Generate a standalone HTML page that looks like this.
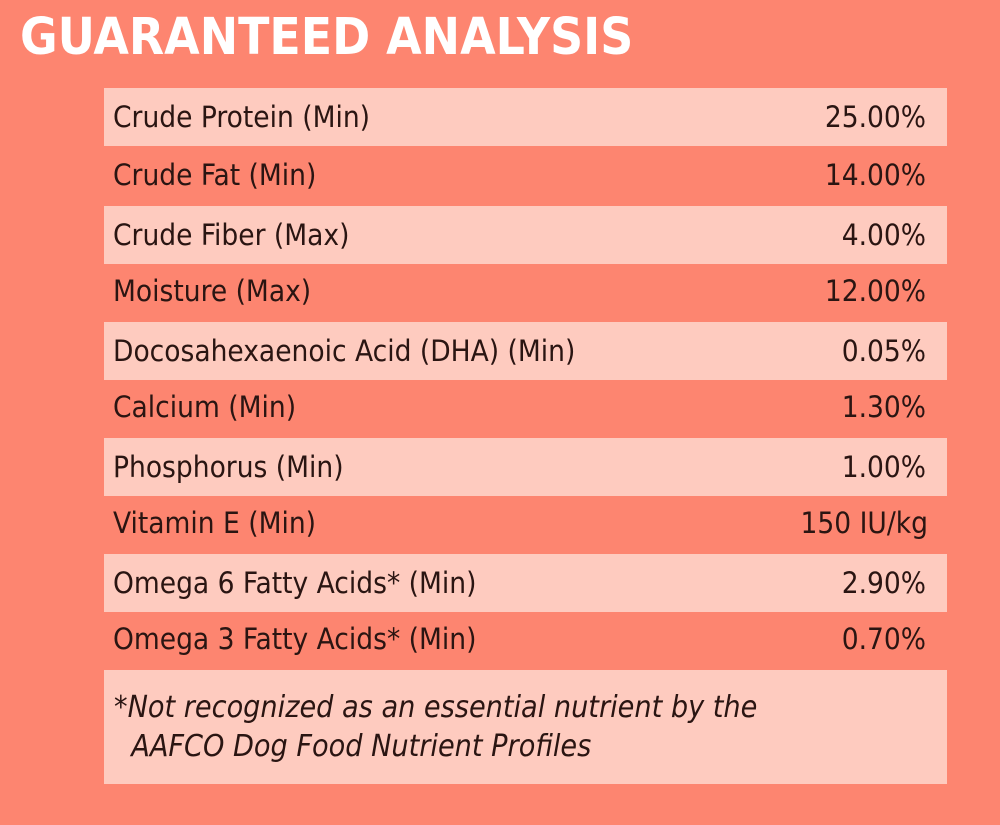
<!DOCTYPE html>
<html><head><style>
body{margin:0;width:1000px;height:825px;background:#FD8570;font-family:"DejaVu Sans Condensed","Liberation Sans",sans-serif;overflow:hidden;position:relative}
h1{position:absolute;left:20px;top:8px;margin:0;font-size:51px;font-weight:bold;color:#fff;font-family:"DejaVu Sans Condensed","Liberation Sans",sans-serif}
.r{position:absolute;left:104px;width:843px;height:58px;color:#2a1512;font-size:29.5px;line-height:58px}
.l{background:#FECBBF}
.r span{position:absolute;left:9px}
.r b{position:absolute;right:21px;font-weight:normal}
.f{position:absolute;left:104px;top:670px;width:843px;height:114px;background:#FECBBF;color:#2a1512;font-size:30.2px;font-style:italic;line-height:39px}
</style></head><body>
<h1>GUARANTEED ANALYSIS</h1>
<div class="r l" style="top:88px"><span>Crude Protein (Min)</span><b>25.00%</b></div>
<div class="r" style="top:146px"><span>Crude Fat (Min)</span><b>14.00%</b></div>
<div class="r l" style="top:206px"><span>Crude Fiber (Max)</span><b>4.00%</b></div>
<div class="r" style="top:262px"><span>Moisture (Max)</span><b>12.00%</b></div>
<div class="r l" style="top:322px"><span>Docosahexaenoic Acid (DHA) (Min)</span><b>0.05%</b></div>
<div class="r" style="top:378px"><span>Calcium (Min)</span><b>1.30%</b></div>
<div class="r l" style="top:438px"><span>Phosphorus (Min)</span><b>1.00%</b></div>
<div class="r" style="top:494px"><span>Vitamin E (Min)</span><b style="right:19px">150 IU/kg</b></div>
<div class="r l" style="top:554px"><span>Omega 6 Fatty Acids* (Min)</span><b>2.90%</b></div>
<div class="r" style="top:610px"><span>Omega 3 Fatty Acids* (Min)</span><b>0.70%</b></div>
<div class="f"><div style="position:absolute;left:10px;top:18px">*Not recognized as an essential nutrient by the<br>&nbsp;&nbsp;AAFCO Dog Food Nutrient Profiles</div></div>
</body></html>
